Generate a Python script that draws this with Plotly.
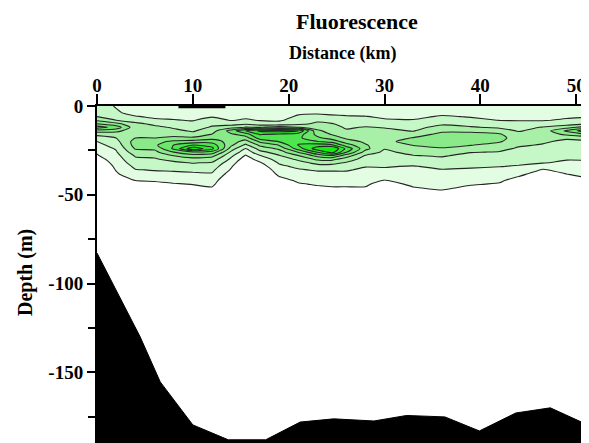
import plotly.graph_objects as go

# ---------------- data ----------------
distance_km = [0, 2, 4, 6, 8, 10, 12, 14, 15.5, 17, 19, 21, 23, 24.5, 26, 28, 30, 33, 36, 39, 42, 44, 46.5, 49, 51.2]
depth_m = [0, -4, -6, -8, -10, -12, -14, -16, -18, -20, -22, -24, -26, -28, -30, -32, -34, -36, -38, -40, -42, -44, -46, -48, -50, -52]

# fluorescence profiles (one list per distance station, values top -> bottom)
fluorescence_profiles = [
    [2.3, 2.6, 3.0, 3.8, 5.0, 6.5, 4.5, 3.2, 2.6, 2.0, 1.7, 1.4, 1.1, 0.9, 0.6, 0.3, 0, 0, 0, 0, 0, 0, 0, 0, 0, 0],
    [1.95, 2.1, 2.4, 3.0, 4.3, 5.6, 4.3, 3.4, 3.0, 2.7, 2.4, 2.1, 1.9, 1.7, 1.5, 1.35, 1.2, 1.05, 0.9, 0.6, 0.3, 0, 0, 0, 0, 0],
    [1.6, 1.8, 2.05, 2.6, 3.2, 3.4, 3.3, 3.5, 4.0, 4.4, 4.4, 4.1, 3.6, 3.1, 2.8, 2.5, 2.2, 1.95, 1.7, 1.4, 1.0, 0.6, 0.2, 0, 0, 0],
    [1.5, 1.7, 1.9, 2.1, 2.8, 3.2, 3.1, 3.1, 4.0, 4.7, 4.8, 4.2, 3.7, 3.2, 2.9, 2.6, 2.3, 2.05, 1.8, 1.5, 1.1, 0.7, 0.3, 0, 0, 0],
    [1.5, 1.6, 1.8, 2.05, 2.5, 2.9, 3.2, 3.6, 4.3, 5.2, 6.0, 6.2, 5.0, 4.0, 3.3, 2.8, 2.4, 2.1, 1.85, 1.6, 1.3, 0.9, 0.5, 0.1, 0, 0],
    [1.5, 1.6, 1.8, 1.95, 2.2, 2.6, 2.9, 3.3, 4.2, 5.4, 7.0, 8.8, 5.8, 4.6, 3.6, 3.05, 2.6, 2.2, 1.9, 1.6, 1.3, 1.05, 0.7, 0.3, 0, 0],
    [1.5, 1.65, 1.95, 2.3, 2.8, 3.1, 3.5, 4.05, 4.6, 5.6, 6.6, 7.3, 5.6, 4.3, 3.5, 2.9, 2.5, 2.2, 1.95, 1.7, 1.45, 1.2, 0.95, 0.5, 0.1, 0],
    [1.5, 1.6, 1.8, 1.95, 2.6, 3.6, 5.5, 4.8, 4.4, 4.5, 4.2, 3.5, 2.8, 2.2, 1.8, 1.4, 1.1, 0.9, 0.6, 0.3, 0, 0, 0, 0, 0, 0],
    [1.5, 1.6, 1.85, 2.1, 2.8, 4.05, 7.0, 5.5, 4.5, 3.6, 2.8, 1.95, 1.4, 0.9, 0.5, 0.2, 0, 0, 0, 0, 0, 0, 0, 0, 0, 0],
    [1.5, 1.6, 1.8, 1.95, 2.4, 3.95, 8.2, 7.05, 6.5, 5.2, 4.2, 3.4, 2.7, 1.95, 1.4, 0.9, 0.5, 0.2, 0, 0, 0, 0, 0, 0, 0, 0],
    [1.5, 1.6, 1.75, 1.9, 2.3, 4.5, 8.4, 6.8, 6.3, 6.05, 5.05, 4.2, 3.5, 2.9, 2.4, 2.1, 1.8, 1.5, 1.25, 0.95, 0.6, 0.2, 0, 0, 0, 0],
    [1.7, 1.9, 2.1, 2.3, 2.7, 4.05, 8.1, 6.5, 6.2, 6.8, 7.05, 6.5, 5.05, 3.95, 3.2, 2.6, 2.2, 1.9, 1.7, 1.45, 1.15, 0.9, 0.6, 0.2, 0, 0],
    [1.6, 1.9, 2.3, 2.8, 3.2, 3.6, 4.2, 4.7, 5.2, 6.05, 7.5, 8.6, 7.05, 5.3, 4.2, 3.3, 2.6, 2.1, 1.8, 1.55, 1.3, 1.1, 0.85, 0.4, 0, 0],
    [1.55, 1.8, 2.2, 2.6, 3.05, 3.3, 3.6, 3.95, 4.6, 5.6, 7.2, 9.1, 8.4, 5.8, 4.3, 3.3, 2.6, 2.1, 1.8, 1.55, 1.35, 1.15, 0.95, 0.6, 0.2, 0],
    [1.5, 1.75, 2.1, 2.4, 2.7, 2.9, 3.1, 3.4, 3.8, 4.5, 5.5, 6.8, 6.05, 4.5, 3.5, 2.9, 2.5, 2.1, 1.8, 1.6, 1.35, 1.15, 0.95, 0.7, 0.3, 0],
    [1.5, 1.7, 2.05, 2.3, 2.7, 3.05, 3.2, 3.3, 3.5, 3.8, 4.1, 4.3, 3.6, 2.9, 2.6, 2.3, 2.05, 1.8, 1.6, 1.45, 1.3, 1.15, 0.95, 0.7, 0.3, 0],
    [1.5, 1.65, 1.85, 2.1, 2.5, 2.95, 3.2, 3.4, 3.6, 3.8, 3.4, 3.05, 2.8, 2.5, 2.25, 2.1, 2.05, 1.9, 1.6, 1.25, 0.95, 0.6, 0.3, 0, 0, 0],
    [1.5, 1.6, 1.8, 2.05, 2.35, 2.7, 2.95, 3.5, 4.05, 4.3, 4.05, 3.6, 3.3, 2.95, 2.6, 2.3, 1.95, 1.8, 1.65, 1.5, 1.35, 1.2, 0.95, 0.6, 0.2, 0],
    [1.6, 1.8, 2.1, 2.5, 2.85, 3.3, 3.8, 4.3, 4.6, 4.6, 4.3, 3.9, 3.4, 3.1, 2.8, 2.5, 2.2, 1.95, 1.8, 1.65, 1.5, 1.35, 1.2, 0.9, 0.5, 0.1],
    [1.6, 1.75, 1.95, 2.2, 2.6, 3.1, 3.8, 4.3, 4.5, 4.4, 4.05, 3.4, 3.05, 2.7, 2.5, 2.3, 2.1, 1.9, 1.75, 1.6, 1.4, 1.1, 0.8, 0.4, 0, 0],
    [1.55, 1.7, 1.85, 1.98, 2.4, 2.8, 3.6, 4.1, 4.25, 4.1, 3.6, 3.2, 2.95, 2.7, 2.4, 2.2, 2.02, 1.8, 1.6, 1.4, 1.15, 0.9, 0.6, 0.2, 0, 0],
    [1.55, 1.7, 1.85, 1.95, 2.3, 2.7, 2.9, 3.4, 3.6, 3.4, 3.1, 2.9, 2.7, 2.45, 2.25, 2.1, 1.95, 1.75, 1.35, 0.95, 0.6, 0.3, 0, 0, 0, 0],
    [1.5, 1.65, 1.8, 1.95, 2.3, 3.05, 3.4, 3.4, 3.2, 3.1, 2.95, 2.8, 2.5, 2.3, 2.1, 2.05, 1.4, 0.9, 0.5, 0.1, 0, 0, 0, 0, 0, 0],
    [1.5, 1.65, 1.9, 2.1, 2.6, 3.6, 5.2, 4.2, 3.1, 2.85, 2.6, 2.4, 2.25, 2.1, 2.05, 1.85, 1.6, 1.3, 1.05, 0.7, 0.3, 0, 0, 0, 0, 0],
    [1.5, 1.7, 1.95, 2.2, 2.9, 4.5, 6.8, 5.05, 3.3, 2.9, 2.7, 2.5, 2.35, 2.2, 2.05, 1.9, 1.7, 1.5, 1.3, 1.1, 0.95, 0.6, 0.2, 0, 0, 0],
]

bathy_km = [0, 2.4, 4.5, 6.6, 10.0, 13.7, 17.6, 21.2, 24.7, 28.9, 32.3, 36.3, 39.9, 43.7, 47.3, 51.2]
bathy_depth = [-82.8, -107.5, -130, -155.4, -179.6, -188, -188, -178, -176.2, -177.4, -174.3, -175.1, -183, -172.9, -170, -179.6]

track_km = [8.5, 13.4]
track_depth = [-0.6, -0.6]

x_tick_vals = [0, 10, 20, 30, 40, 50]
x_tick_text = ["0", "10", "20", "30", "40", "50"]
y_tick_vals = [0, -50, -100, -150]
y_tick_text = ["0", "-50", "-100", "-150"]
y_minor_vals = [-25, -75, -125, -175]

level_colors = ["#ffffff", "#e2fde2", "#c6f7c6", "#a8f0a8", "#8aea8a", "#6ce66c", "#4ee64e", "#2ee82e", "#10f010"]

# ---------------- figure ----------------
# the page body adds an 8px margin, so the figure is 8px smaller on each axis
W, H = 581, 435
L, R, T, B = 89, 2, 98, 0
X_MAX = 51.13
Y_MIN = -189.8

z = [[fluorescence_profiles[j][i] for j in range(len(distance_km))] for i in range(len(depth_m))]
n = len(level_colors) - 1
colorscale = [[k / n, c] for k, c in enumerate(level_colors)]

fig = go.Figure()
fig.add_trace(go.Contour(
    x=distance_km, y=depth_m, z=z,
    zmin=0.5, zmax=8.5, zauto=False,
    colorscale=colorscale,
    contours=dict(start=1, end=8, size=1, coloring="fill"),
    line=dict(color="#262626", width=1.1, smoothing=0.6),
    showscale=False, hoverinfo="skip",
))

fig.add_trace(go.Scatter(
    x=bathy_km + [bathy_km[-1], bathy_km[0]],
    y=bathy_depth + [Y_MIN - 20, Y_MIN - 20],
    mode="lines", fill="toself", fillcolor="black",
    line=dict(color="black", width=1), hoverinfo="skip", showlegend=False,
))

fig.add_trace(go.Scatter(
    x=track_km, y=track_depth, mode="lines",
    line=dict(color="black", width=2.5), hoverinfo="skip", showlegend=False,
))

bold = dict(family="Liberation Serif", color="black", weight="bold")


def paper(xp, yp):
    return (xp - L) / (W - L - R), (H - B - yp) / (H - T - B)


annos = []
for text, xp, yp, size, angle in [
    ("Fluorescence", 349, 13, 22, 0),
    ("Distance (km)", 334, 45, 18, 0),
    ("Depth (m)", 17, 265, 20, -90),
]:
    ax_, ay_ = paper(xp, yp)
    annos.append(dict(text=text, x=ax_, y=ay_, xref="paper", yref="paper",
                      xanchor="center", yanchor="middle", showarrow=False,
                      textangle=angle, font=dict(size=size, **bold)))

fig.update_layout(
    width=W, height=H, template="none",
    margin=dict(l=L, r=R, t=T, b=B, pad=0),
    paper_bgcolor="white", plot_bgcolor="white",
    showlegend=False, annotations=annos,
    xaxis=dict(range=[0, X_MAX], side="top", showline=True, linecolor="black", linewidth=2,
               ticks="outside", ticklen=10, tickwidth=2, tickcolor="black",
               tickvals=x_tick_vals, ticktext=x_tick_text, ticklabelstandoff=-6,
               tickfont=dict(size=19, **bold), showgrid=False, zeroline=False,
               mirror=False, automargin=False),
    yaxis=dict(range=[Y_MIN, 0], showline=True, linecolor="black", linewidth=2,
               ticks="outside", ticklen=8, tickwidth=2, tickcolor="black",
               tickvals=y_tick_vals, ticktext=y_tick_text,
               tickfont=dict(size=19, **bold), showgrid=False, zeroline=False,
               mirror=True, automargin=False,
               minor=dict(tickvals=y_minor_vals, ticks="outside", ticklen=7,
                          tickwidth=2, tickcolor="black", showgrid=False)),
)

fig.write_html("out.html")
